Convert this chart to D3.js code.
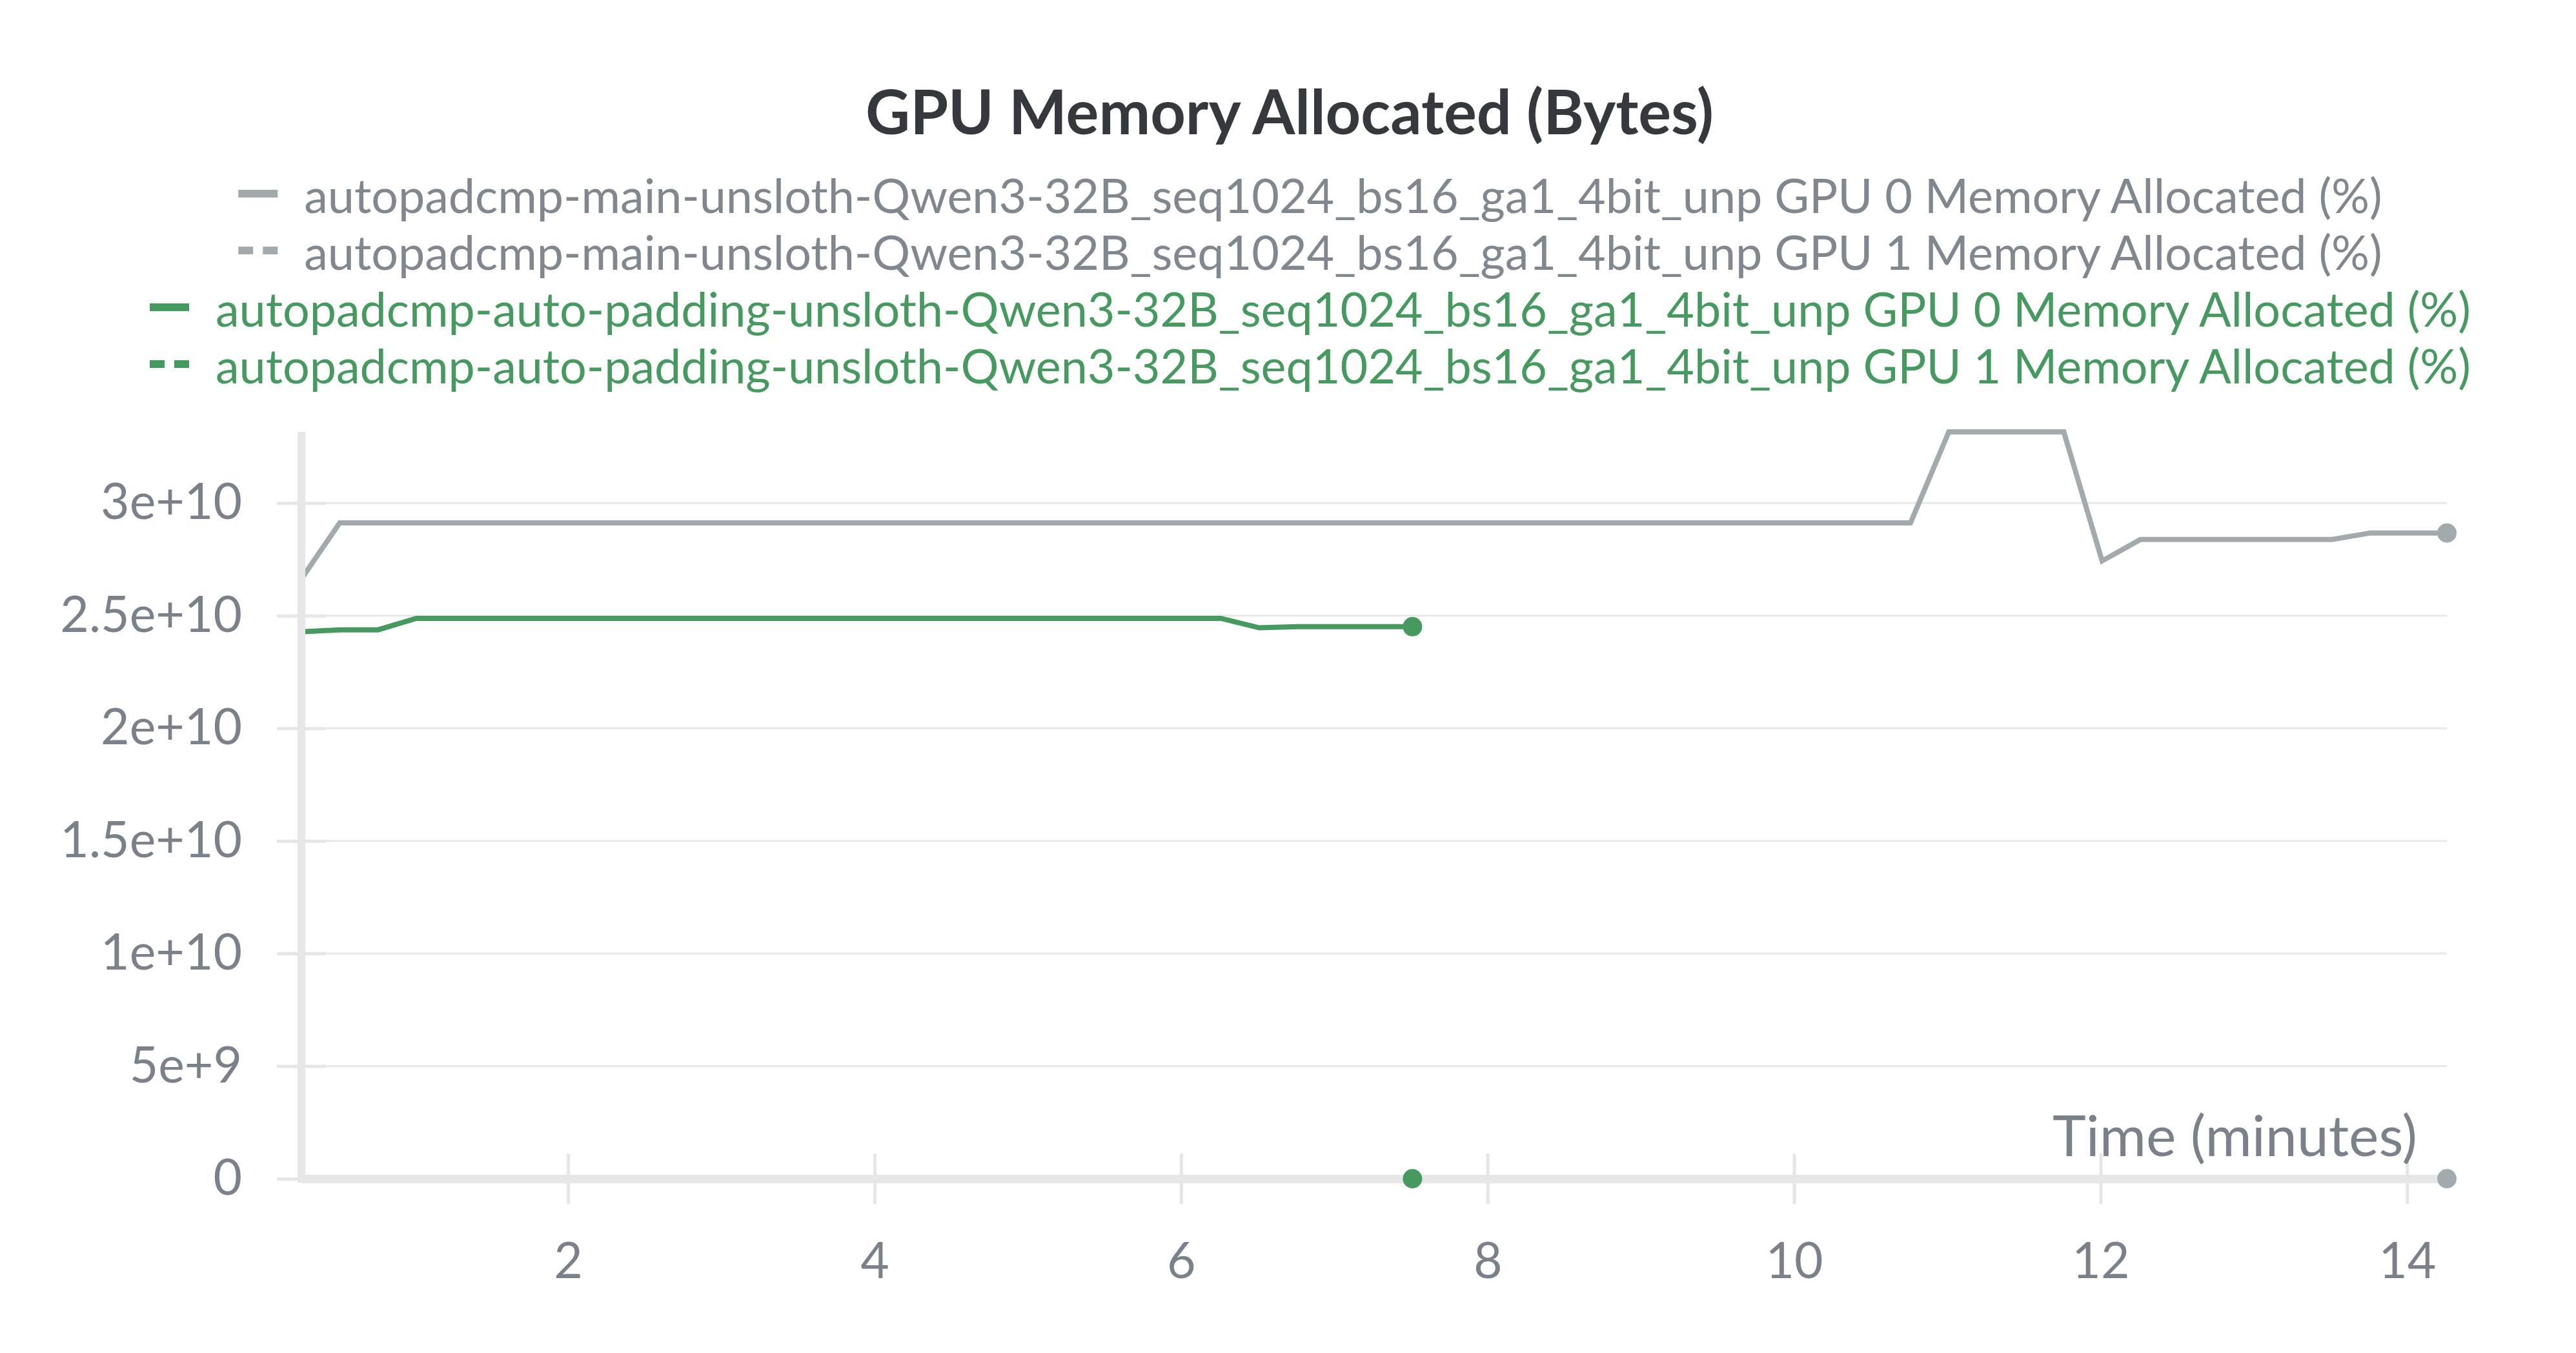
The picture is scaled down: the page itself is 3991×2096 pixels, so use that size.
<!DOCTYPE html>
<html>
<head>
<meta charset="utf-8">
<script src="https://cdn.jsdelivr.net/npm/d3@7"></script>
<style>
  html, body { margin: 0; padding: 0; background: #ffffff; }
  svg { display: block; }
  text { font-family: Lato, "Noto Sans", sans-serif; }
</style>
</head>
<body>
<svg id="chart" width="3991" height="2096"></svg>
<script>
// ---------------- data ----------------
const chartTitle = "GPU Memory Allocated (Bytes)";
const xAxisLabel = "Time (minutes)";

const seriesNames = [
  "autopadcmp-main-unsloth-Qwen3-32B_seq1024_bs16_ga1_4bit_unp GPU 0 Memory Allocated (%)",
  "autopadcmp-main-unsloth-Qwen3-32B_seq1024_bs16_ga1_4bit_unp GPU 1 Memory Allocated (%)",
  "autopadcmp-auto-padding-unsloth-Qwen3-32B_seq1024_bs16_ga1_4bit_unp GPU 0 Memory Allocated (%)",
  "autopadcmp-auto-padding-unsloth-Qwen3-32B_seq1024_bs16_ga1_4bit_unp GPU 1 Memory Allocated (%)"
];
const seriesColors = ["#a3aaad", "#a3aaad", "#479a5f", "#479a5f"];
const seriesTextColors = ["#80878f", "#80878f", "#479a5f", "#479a5f"];
const seriesDashed = [false, true, false, true];

// times in minutes
const mainGpu0Time  = [0.26, 0.51, 10.76, 11.01, 11.76, 12.01, 12.26, 13.51, 13.76, 14.26];
const mainGpu0Bytes = [2.663e10, 2.912e10, 2.912e10, 3.316e10, 3.316e10, 2.743e10, 2.838e10, 2.838e10, 2.867e10, 2.867e10];
const mainGpu1Time  = [0.26, 14.26];
const mainGpu1Bytes = [0, 0];
const autoGpu0Time  = [0.26, 0.51, 0.76, 1.01, 6.26, 6.51, 6.76, 7.51];
const autoGpu0Bytes = [2.428e10, 2.437e10, 2.437e10, 2.488e10, 2.488e10, 2.446e10, 2.451e10, 2.451e10];
const autoGpu1Time  = [0.26, 7.51];
const autoGpu1Bytes = [0, 0];

const xTicks = [2, 4, 6, 8, 10, 12, 14];
const xTickLabels = ["2", "4", "6", "8", "10", "12", "14"];
const yTicks = [0, 5e9, 1e10, 1.5e10, 2e10, 2.5e10, 3e10];
const yTickLabels = ["0", "5e+9", "1e+10", "1.5e+10", "2e+10", "2.5e+10", "3e+10"];

const xDomain = [0.26, 14.26];
const yDomain = [0, 3.316e10];

// ---------------- layout ----------------
const svg = d3.select("#chart");
const plot = { left: 467, right: 3791, top: 669, bottom: 1826 };

const x = d3.scaleLinear().domain(xDomain).range([plot.left, plot.right]);
const y = d3.scaleLinear().domain(yDomain).range([plot.bottom, plot.top]);

function zip(t, v) { return t.map((d, i) => ({ t: d, v: v[i] })); }
const series = [
  zip(mainGpu0Time, mainGpu0Bytes),
  zip(mainGpu1Time, mainGpu1Bytes),
  zip(autoGpu0Time, autoGpu0Bytes),
  zip(autoGpu1Time, autoGpu1Bytes)
];

// helper to fit a text to a target width
function fitSize(text, weight, targetWidth) {
  const t = svg.append("text").attr("font-size", 100).attr("font-weight", weight).text(text);
  const w = t.node().getComputedTextLength();
  t.remove();
  return 100 * targetWidth / w;
}

const axisColor = "#e6e6e9";
const gridColor = "#e8e8ea";
const labelColor = "#7b818b";
const tickFont = fitSize("3e+10", 400, 219);

// gridlines
svg.append("g").selectAll("line").data(yTicks.filter(d => d > 0)).join("line")
  .attr("x1", plot.left).attr("x2", plot.right)
  .attr("y1", d => y(d)).attr("y2", d => y(d))
  .attr("stroke", gridColor).attr("stroke-width", 3);

// lines
const line = d3.line().x(d => x(d.t)).y(d => y(d.v));
series.forEach((s, i) => {
  svg.append("path").datum(s)
    .attr("d", line)
    .attr("fill", "none")
    .attr("stroke", seriesColors[i])
    .attr("stroke-width", 8)
    .attr("stroke-linejoin", "miter")
    .attr("stroke-dasharray", seriesDashed[i] ? "23,15" : null);
});

// y axis
const yAxis = svg.append("g").attr("transform", `translate(${plot.left},0)`)
  .call(d3.axisLeft(y).tickValues(yTicks).tickFormat((d, i) => yTickLabels[i])
    .tickSize(38).tickSizeOuter(0).tickPadding(54));
yAxis.select(".domain").attr("stroke", axisColor).attr("stroke-width", 12)
  .attr("d", `M0,${plot.top}V${plot.bottom + 6}`);
yAxis.selectAll(".tick line").attr("x1", 38).attr("stroke", axisColor).attr("stroke-width", 5);
yAxis.selectAll(".tick text").attr("fill", labelColor).attr("font-size", tickFont)
  .attr("font-family", "Lato, 'Noto Sans', sans-serif");

// x axis
const xAxis = svg.append("g").attr("transform", `translate(0,${plot.bottom})`)
  .call(d3.axisBottom(x).tickValues(xTicks).tickFormat((d, i) => xTickLabels[i])
    .tickSize(39).tickSizeOuter(0).tickPadding(60));
xAxis.select(".domain").attr("stroke", axisColor).attr("stroke-width", 13);
xAxis.selectAll(".tick line").attr("y1", -39).attr("stroke", axisColor).attr("stroke-width", 5);
xAxis.selectAll(".tick text").attr("fill", labelColor).attr("font-size", tickFont)
  .attr("font-family", "Lato, 'Noto Sans', sans-serif");

// x axis title
svg.append("text").attr("x", 3745).attr("y", 1791)
  .attr("text-anchor", "end").attr("fill", labelColor)
  .attr("font-size", fitSize(xAxisLabel, 400, 565))
  .text(xAxisLabel);

// end dots
series.forEach((s, i) => {
  const last = s[s.length - 1];
  svg.append("circle").attr("cx", x(last.t)).attr("cy", y(last.v)).attr("r", 15)
    .attr("fill", seriesColors[i]);
});

// title
svg.append("text").attr("x", 1998).attr("y", 208).attr("text-anchor", "middle")
  .attr("font-weight", 700).attr("fill", "#35383c")
  .attr("font-size", fitSize(chartTitle, 700, 1314))
  .text(chartTitle);

// legend
const legendFont = fitSize(seriesNames[0], 400, 3220);
const legendBaselines = [330, 418, 506, 594];
const legendCenter = 2030;
seriesNames.forEach((name, i) => {
  const g = svg.append("g");
  const txt = g.append("text").attr("x", 102).attr("y", 0)
    .attr("font-size", legendFont).attr("fill", seriesTextColors[i]).text(name);
  g.append("line").attr("x1", 0).attr("x2", 61).attr("y1", -30).attr("y2", -30)
    .attr("stroke", seriesColors[i]).attr("stroke-width", 12)
    .attr("stroke-dasharray", seriesDashed[i] ? "23,15" : null);
  const total = 102 + txt.node().getComputedTextLength();
  g.attr("transform", `translate(${legendCenter - total / 2},${legendBaselines[i]})`);
});
</script>
</body>
</html>
